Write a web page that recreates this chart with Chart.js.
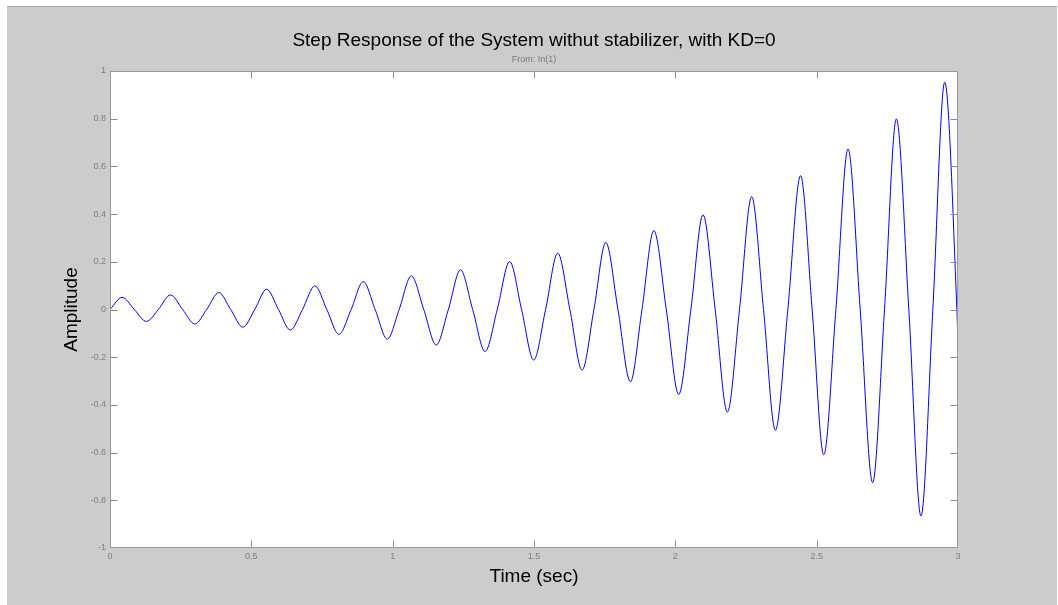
<!DOCTYPE html>
<html>
<head>
<meta charset="utf-8">
<script src="https://cdn.jsdelivr.net/npm/chart.js@4.4.1/dist/chart.umd.min.js"></script>
<style>
  html, body { margin: 0; padding: 0; background: #ffffff; overflow: hidden; }
  canvas { display: block; }
</style>
</head>
<body>
<canvas id="c" width="1058" height="605"></canvas>
<script>
// ---- data ----
const timeSec = [
  0, 0.043, 0.086, 0.129, 0.171, 0.214, 0.257, 0.300, 0.342, 0.385,
  0.427, 0.470, 0.512, 0.554, 0.596, 0.638, 0.681, 0.725, 0.767, 0.810,
  0.853, 0.896, 0.938, 0.981, 1.023, 1.066, 1.110, 1.154, 1.197, 1.240,
  1.283, 1.327, 1.370, 1.414, 1.456, 1.499, 1.541, 1.584, 1.627, 1.670,
  1.712, 1.754, 1.797, 1.841, 1.882, 1.924, 1.968, 2.012, 2.055, 2.098,
  2.141, 2.184, 2.227, 2.270, 2.312, 2.354, 2.398, 2.443, 2.484, 2.525,
  2.568, 2.611, 2.654, 2.698, 2.740, 2.782, 2.826, 2.869, 2.911, 2.953,
  2.996, 3.000
];
const amplitude = [
  0, 0.051, 0, -0.050, 0, 0.061, 0, -0.061, 0, 0.071,
  0, -0.074, 0, 0.085, 0, -0.086, 0, 0.099, 0, -0.104,
  0, 0.117, 0, -0.124, 0, 0.141, 0, -0.149, 0, 0.166,
  0, -0.176, 0, 0.201, 0, -0.212, 0, 0.236, 0, -0.254,
  0, 0.281, 0, -0.303, 0, 0.331, 0, -0.356, 0, 0.397,
  0, -0.430, 0, 0.473, 0, -0.506, 0, 0.561, 0, -0.609,
  0, 0.673, 0, -0.726, 0, 0.799, 0, -0.866, 0, 0.953,
  0, -0.140
];
const xTickLabels = ['0', '0.5', '1', '1.5', '2', '2.5', '3'];
const yTickLabels = ['-1', '-0.8', '-0.6', '-0.4', '-0.2', '0', '0.2', '0.4', '0.6', '0.8', '1'];

const points = timeSec.map((t, i) => ({ x: t, y: amplitude[i] }));

const FONT = "'Liberation Sans', Arial, sans-serif";

const matlabFrame = {
  id: 'matlabFrame',
  beforeDraw(chart) {
    const ctx = chart.ctx;
    const a = chart.chartArea;
    ctx.save();
    ctx.fillStyle = '#ffffff';
    ctx.fillRect(0, 0, chart.width, chart.height);
    ctx.fillStyle = '#cccccc';
    ctx.fillRect(7, 7, chart.width - 8, chart.height - 7);
    ctx.fillStyle = '#a9a9a9';
    ctx.fillRect(7, 6, chart.width - 8, 1);
    ctx.fillStyle = '#ffffff';
    ctx.fillRect(a.left, a.top, a.right - a.left, a.bottom - a.top);
    ctx.restore();
  },
  afterDatasetsDraw(chart) {
    const ctx = chart.ctx;
    const a = chart.chartArea;
    const xs = chart.scales.x, ys = chart.scales.y;
    const L = Math.round(a.left) + 0.5, R = Math.round(a.right) - 0.5;
    const T = Math.round(a.top) + 0.5, B = Math.round(a.bottom) - 0.5;
    const len = 7;
    ctx.save();
    ctx.strokeStyle = '#8a8a8a';
    ctx.lineWidth = 1;
    ctx.beginPath();
    xs.ticks.forEach(tk => {
      const px = Math.round(xs.getPixelForValue(tk.value)) + 0.5;
      if (px <= L + 1 || px >= R - 1) return;
      ctx.moveTo(px, B); ctx.lineTo(px, B - len);
      ctx.moveTo(px, T); ctx.lineTo(px, T + len);
    });
    ys.ticks.forEach(tk => {
      const py = Math.round(ys.getPixelForValue(tk.value)) + 0.5;
      if (py <= T + 1 || py >= B - 1) return;
      ctx.moveTo(L, py); ctx.lineTo(L + len, py);
      ctx.moveTo(R, py); ctx.lineTo(R - len, py);
    });
    ctx.stroke();
    ctx.strokeStyle = '#999999';
    ctx.strokeRect(L, T, R - L, B - T);
    ctx.restore();
  }
};

new Chart(document.getElementById('c'), {
  type: 'line',
  data: {
    datasets: [{
      data: points,
      borderColor: '#0000ff',
      borderWidth: 1,
      pointRadius: 0,
      fill: false,
      cubicInterpolationMode: 'monotone'
    }]
  },
  plugins: [matlabFrame],
  options: {
    responsive: false,
    devicePixelRatio: 1,
    animation: false,
    layout: { padding: { left: 0, right: 100, top: 0, bottom: 0 } },
    plugins: {
      legend: { display: false },
      tooltip: { enabled: false },
      title: {
        display: true,
        fullSize: false,
        text: 'Step Response of the System withut stabilizer, with KD=0',
        color: '#000000',
        font: { family: FONT, size: 19, weight: 'normal' },
        padding: { top: 29.6, bottom: 0 }
      },
      subtitle: {
        display: true,
        fullSize: false,
        text: 'From: In(1)',
        color: '#7a7a7a',
        font: { family: FONT, size: 9, weight: 'normal' },
        padding: { top: 1.7, bottom: 6.1 }
      }
    },
    scales: {
      x: {
        type: 'linear',
        min: 0,
        max: 3,
        afterFit(scale) { scale.height = 57; },
        grid: { display: false, drawTicks: false },
        border: { display: false },
        ticks: {
          stepSize: 0.5,
          autoSkip: false,
          maxRotation: 0,
          padding: 3,
          color: '#7f7f7f',
          font: { family: FONT, size: 9 },
          callback: (v, i) => xTickLabels[i]
        },
        title: {
          display: true,
          text: 'Time (sec)',
          color: '#000000',
          font: { family: FONT, size: 19 },
          padding: { top: 0, bottom: 16.6 }
        }
      },
      y: {
        type: 'linear',
        min: -1,
        max: 1,
        afterFit(scale) { scale.width = 110; },
        grid: { display: false, drawTicks: false },
        border: { display: false },
        ticks: {
          stepSize: 0.2,
          autoSkip: false,
          padding: 4,
          color: '#7f7f7f',
          font: { family: FONT, size: 9 },
          callback: (v, i) => yTickLabels[i]
        },
        title: {
          display: true,
          text: 'Amplitude',
          color: '#000000',
          font: { family: FONT, size: 19 },
          padding: { top: 60.6, bottom: 0 }
        }
      }
    }
  }
});
</script>
</body>
</html>
